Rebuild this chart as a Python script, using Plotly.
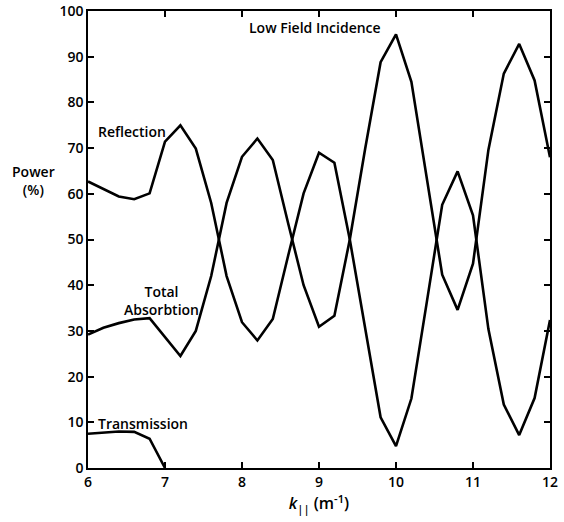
import plotly.graph_objects as go

# Parallel wavenumber k|| (m^-1)
k_par = [6.0, 6.2, 6.4, 6.6, 6.8, 7.0, 7.2, 7.4, 7.6, 7.8,
         8.0, 8.2, 8.4, 8.6, 8.8, 9.0, 9.2, 9.4, 9.6, 9.8,
         10.0, 10.2, 10.4, 10.6, 10.8, 11.0, 11.2, 11.4, 11.6, 11.8, 12.0]

# Power fractions (%)
reflection = [62.7, 61.0, 59.4, 58.8, 60.1, 71.4, 75.0, 69.9, 58.0, 42.0,
              31.9, 27.9, 32.6, 46.5, 60.1, 69.0, 66.8, 50.0, 30.2, 11.1,
              4.8, 15.2, 36.3, 57.6, 64.9, 55.3, 30.4, 13.9, 7.2, 15.3, 32.4]

absorption = [29.2, 30.7, 31.7, 32.5, 32.8, 28.6, 24.5, 30.0, 42.0, 58.0,
              68.1, 72.1, 67.4, 53.5, 40.0, 30.9, 33.3, 50.0, 69.9, 88.8,
              94.9, 84.5, 63.5, 42.3, 34.6, 44.7, 69.6, 86.3, 92.8, 84.8, 68.0]

k_trans = [6.0, 6.2, 6.4, 6.6, 6.8, 7.0]
transmission = [7.5, 7.8, 8.0, 7.9, 6.4, 0.0]

x_ticks = [6, 7, 8, 9, 10, 11, 12]
y_ticks = [0, 10, 20, 30, 40, 50, 60, 70, 80, 90, 100]

FONT = "Open Sans"
line_style = dict(color="black", width=2.6)

fig = go.Figure()
fig.add_trace(go.Scatter(x=k_par, y=reflection, mode="lines", line=line_style,
                         name="Reflection"))
fig.add_trace(go.Scatter(x=k_par, y=absorption, mode="lines", line=line_style,
                         name="Total Absorbtion"))
fig.add_trace(go.Scatter(x=k_trans, y=transmission, mode="lines", line=line_style,
                         name="Transmission"))

axis_common = dict(
    showgrid=False, zeroline=False, showline=True, linecolor="black",
    linewidth=1.5, mirror="ticks", ticks="inside", ticklen=6, tickwidth=1.5,
    tickcolor="black", automargin=False,
    tickfont=dict(family=FONT, size=14, color="black", weight=600),
)

fig.update_xaxes(range=[6, 12], tickvals=x_ticks, ticktext=[str(v) for v in x_ticks],
                 title=dict(text="<i>k</i><sub>||</sub> (m<sup>-1</sup>)",
                            font=dict(family=FONT, size=16, color="black", weight=600),
                            standoff=6),
                 **axis_common)
fig.update_yaxes(range=[0, 100], tickvals=y_ticks, ticktext=[str(v) for v in y_ticks],
                 **axis_common)

label_font = dict(family=FONT, size=14, color="black", weight=600)
notes = [
    dict(x=6.57, y=73.7, text="Reflection"),
    dict(x=6.96, y=36.6, text="Total<br>Absorbtion"),
    dict(x=6.71, y=9.8, text="Transmission"),
    dict(x=8.95, y=96.4, text="Low Field Incidence"),
]
for n in notes:
    fig.add_annotation(x=n["x"], y=n["y"], text=n["text"], showarrow=False,
                       font=label_font, xref="x", yref="y")

fig.add_annotation(xref="paper", yref="paper", x=-0.117, y=0.63,
                   xanchor="center", yanchor="middle", text="Power<br>(%)",
                   showarrow=False, font=label_font)

fig.update_layout(
    width=564, height=522,
    margin=dict(l=88, r=14, t=11, b=54),
    paper_bgcolor="white", plot_bgcolor="white",
    showlegend=False,
)

fig.write_html("out.html")
